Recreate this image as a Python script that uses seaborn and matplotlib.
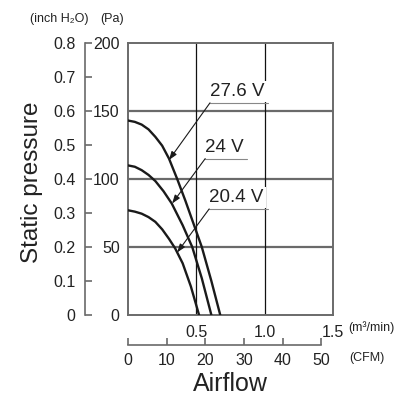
import matplotlib
matplotlib.use("Agg")
import matplotlib.pyplot as plt
import numpy as np
import pandas as pd
import seaborn as sns

# --- data (airflow in m3/min, pressure in Pa) ---
flow_276 = [0, 0.05, 0.10, 0.15, 0.20, 0.25, 0.30, 0.36, 0.42, 0.48, 0.54, 0.61, 0.675]
pres_276 = [143, 142, 140, 136.5, 131, 124.5, 115, 100, 84, 67, 50, 25, 0]
flow_240 = [0, 0.05, 0.10, 0.15, 0.20, 0.26, 0.32, 0.40, 0.47, 0.54, 0.61]
pres_240 = [110, 109, 106.5, 103, 98.5, 91, 82, 66, 50, 27, 0]
flow_204 = [0, 0.05, 0.10, 0.15, 0.20, 0.25, 0.30, 0.345, 0.40, 0.46, 0.52]
pres_204 = [77, 76, 74.5, 72, 68.5, 63, 56, 49, 38, 21, 0]
voltages = ["27.6 V", "24 V", "20.4 V"]

pa_ticks = [0, 50, 100, 150, 200]
inch_ticks = [0, 0.1, 0.2, 0.3, 0.4, 0.5, 0.6, 0.7, 0.8]
inch_labels = ["0", "0.1", "0.2", "0.3", "0.4", "0.5", "0.6", "0.7", "0.8"]
m3_ticks = [0.5, 1.0, 1.5]
m3_labels = ["0.5", "1.0", "1.5"]
cfm_ticks = [0, 10, 20, 30, 40, 50]
M3_TO_CFM = 35.3147

# label text anchor (x, y) and arrow tip on the curve, data coords
label_pos = [(0.60, 157.5), (0.565, 116.5), (0.594, 79.5)]
label_end = [1.027, 0.873, 1.027]
arrow_tip = [(0.30, 114), (0.323, 82), (0.36, 46)]

df = pd.DataFrame({
    "flow": flow_276 + flow_240 + flow_204,
    "pressure": pres_276 + pres_240 + pres_204,
    "voltage": [voltages[0]] * len(flow_276) + [voltages[1]] * len(flow_240)
    + [voltages[2]] * len(flow_204),
})

sns.set_style("white")
REG = ["Liberation Sans", "DejaVu Sans"]
plt.rcParams["font.family"] = REG
TXT = "#222222"
GRID = "#6a6a6a"
NUM = 11.5

fig = plt.figure(figsize=(4.04, 4.05), dpi=100)
W, H = 404, 405
ax = fig.add_axes([128 / W, 1 - 315 / H, 205 / W, 272 / H])

for y in pa_ticks[1:-1]:
    ax.axhline(y, color=GRID, lw=1.6, zorder=1)
for x in m3_ticks[:-1]:
    ax.axvline(x, color="#111111", lw=0.9, zorder=1)

sns.lineplot(data=df, x="flow", y="pressure", hue="voltage", sort=False,
             estimator=None, palette=["#1a1a1a"] * 3, linewidth=1.7,
             legend=False, ax=ax, zorder=3)

ax.set_xlim(0, 1.5)
ax.set_ylim(0, 200)
ax.set_xlabel("")
ax.set_ylabel("")
for s in ax.spines.values():
    s.set_color(GRID)
    s.set_linewidth(1.4)
ax.set_yticks(pa_ticks)
ax.set_yticklabels([str(v) for v in pa_ticks], fontsize=NUM, color=TXT)
ax.set_xticks(m3_ticks)
ax.set_xticklabels(m3_labels, fontsize=NUM, color=TXT)
ax.tick_params(axis="y", length=0, pad=6)
ax.tick_params(axis="x", length=0, pad=7)

# voltage labels with leaders
for txt, (tx, ty), xe, (ax_, ay) in zip(voltages, label_pos, label_end, arrow_tip):
    ax.text(tx, ty + 0.5, txt, fontsize=13.5, color=TXT, ha="left", va="bottom", zorder=4,
            bbox=dict(facecolor="white", edgecolor="none", pad=1.5))
    ax.plot([tx, xe], [ty - 1.5, ty - 1.5], color="#888888", lw=0.8, zorder=4)
    ax.annotate("", xy=(ax_, ay), xytext=(tx, ty - 1.5), zorder=4,
                arrowprops=dict(arrowstyle="-|>,head_length=0.5,head_width=0.18",
                                color="#1a1a1a", lw=0.8, shrinkA=0, shrinkB=0))

# inch H2O axis
ax_in = fig.add_axes([85 / W, 1 - 315 / H, 20 / W, 272 / H])
ax_in.set_ylim(0, 0.8)
ax_in.set_xticks([])
for k, s in ax_in.spines.items():
    s.set_visible(k == "left")
ax_in.spines["left"].set_color(GRID)
ax_in.spines["left"].set_linewidth(1.2)
ax_in.set_yticks(inch_ticks)
ax_in.set_yticklabels(inch_labels, fontsize=NUM, color=TXT)
ax_in.tick_params(axis="y", left=True, direction="in", length=5, width=1.2,
                  color=GRID, pad=7)
ax_in.patch.set_visible(False)

# CFM axis
ax_cfm = fig.add_axes([128 / W, 1 - 345 / H, 205 / W, 10 / H])
ax_cfm.set_xlim(0, 1.5 * M3_TO_CFM)
ax_cfm.set_yticks([])
for k, s in ax_cfm.spines.items():
    s.set_visible(k == "bottom")
ax_cfm.spines["bottom"].set_color(GRID)
ax_cfm.spines["bottom"].set_linewidth(1.2)
ax_cfm.spines["bottom"].set_bounds(0, 50)
ax_cfm.set_xticks(cfm_ticks)
ax_cfm.set_xticklabels([str(v) for v in cfm_ticks], fontsize=NUM, color=TXT)
ax_cfm.tick_params(axis="x", bottom=True, direction="in", length=5, width=1.2,
                   color=GRID, pad=6)
ax_cfm.patch.set_visible(False)

# units and titles
fig.text(30 / W, 1 - 19 / H, "(inch H₂O)", fontsize=9, color=TXT, va="center")
fig.text(100 / W, 1 - 19 / H, "(Pa)", fontsize=9, color=TXT, va="center")
fig.text(348 / W, 1 - 328 / H, "(m³/min)", fontsize=9, color=TXT, va="center")
fig.text(349 / W, 1 - 358 / H, "(CFM)", fontsize=9, color=TXT, va="center")
fig.text(32 / W, 1 - 182 / H, "Static pressure", fontsize=17.5, color=TXT,
         rotation=90, ha="center", va="center")
fig.text(230 / W, 1 - 384 / H, "Airflow", fontsize=18, color=TXT, ha="center", va="center")

fig.savefig("out.png", dpi=100)
